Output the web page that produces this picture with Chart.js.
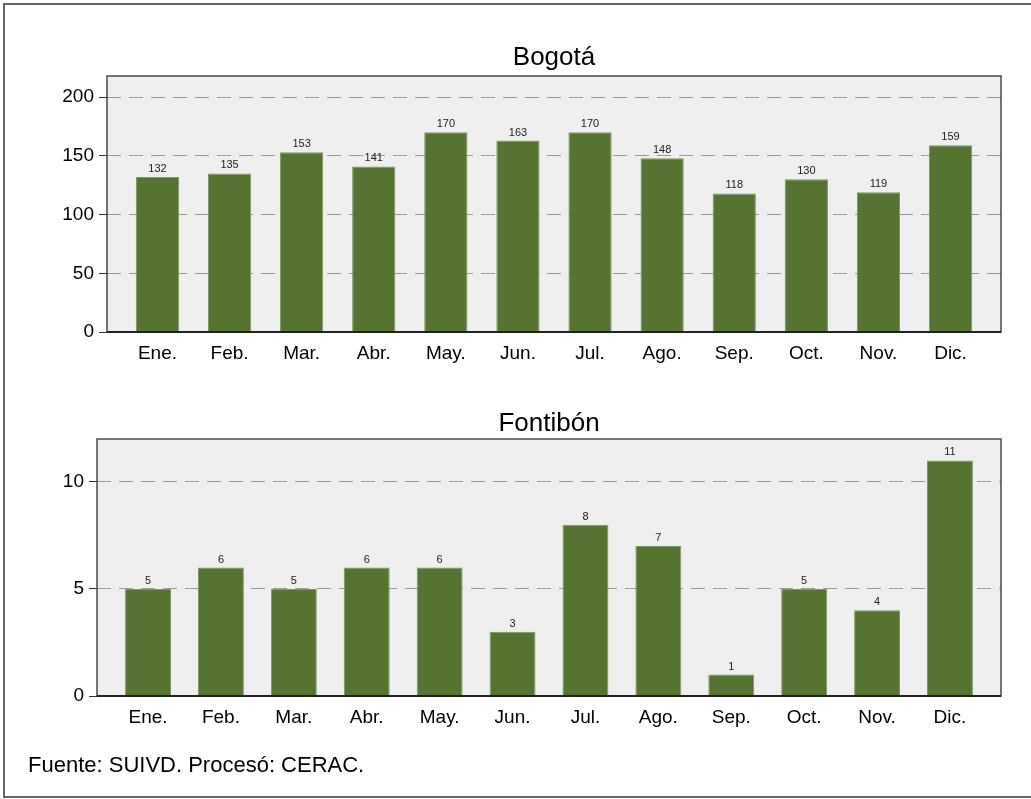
<!DOCTYPE html>
<html>
<head>
<meta charset="utf-8">
<script src="https://cdn.jsdelivr.net/npm/chart.js@4"></script>
<style>
  html, body { margin: 0; padding: 0; background: #ffffff; }
  body { width: 1031px; height: 799px; position: relative; overflow: hidden; }
  #frame { position: absolute; left: 3px; top: 3px; width: 1026px; height: 791px; border: 2px solid #666666; }
  canvas { position: absolute; left: 0; }
  #c1 { top: 0; }
  #c2 { top: 400px; }
</style>
</head>
<body>
<div id="frame"></div>
<canvas id="c1" width="1031" height="400"></canvas>
<canvas id="c2" width="1031" height="399"></canvas>
<script>
const months = ['Ene.', 'Feb.', 'Mar.', 'Abr.', 'May.', 'Jun.', 'Jul.', 'Ago.', 'Sep.', 'Oct.', 'Nov.', 'Dic.'];
const bogota = [132, 135, 153, 141, 170, 163, 170, 148, 118, 130, 119, 159];
const fontibon = [5, 6, 5, 6, 6, 3, 8, 7, 1, 5, 4, 11];
const bogotaTicks = [0, 50, 100, 150, 200];
const fontibonTicks = [0, 5, 10];
const bogotaTitle = 'Bogotá';
const fontibonTitle = 'Fontibón';
const sourceNote = 'Fuente: SUIVD. Procesó: CERAC.';

const FONT = '"Liberation Sans", Arial, sans-serif';
const BAR = '#557431';
const BAR_EDGE = '#7d9666';

function framePlugin(title, footer) {
  return {
    id: 'frameDeco',
    beforeDraw(chart) {
      const {ctx, chartArea: a} = chart;
      ctx.save();
      ctx.fillStyle = '#efefef';
      ctx.fillRect(a.left, a.top, a.right - a.left, a.bottom - a.top);
      ctx.restore();
    },
    afterDatasetsDraw(chart) {
      const {ctx, chartArea: a} = chart;
      ctx.save();
      ctx.strokeStyle = '#4a4a4a';
      ctx.lineWidth = 1.5;
      ctx.strokeRect(a.left, a.top, a.right - a.left, a.bottom - a.top);
      ctx.strokeStyle = '#222222';
      ctx.lineWidth = 2;
      ctx.beginPath();
      ctx.moveTo(a.left, a.bottom);
      ctx.lineTo(a.right, a.bottom);
      ctx.stroke();
      const meta = chart.getDatasetMeta(0);
      const vals = chart.data.datasets[0].data;
      ctx.fillStyle = '#222222';
      ctx.font = '11px ' + FONT;
      ctx.textAlign = 'center';
      ctx.textBaseline = 'alphabetic';
      meta.data.forEach((el, i) => {
        ctx.fillText(String(vals[i].y), el.x, el.y - 5);
      });
      ctx.fillStyle = '#000000';
      ctx.font = '26px ' + FONT;
      ctx.fillText(title.text, (a.left + a.right) / 2, title.y);
      if (footer) {
        ctx.textAlign = 'left';
        ctx.font = '22px ' + FONT;
        ctx.fillText(footer.text, footer.x, footer.y);
      }
      ctx.restore();
    }
  };
}

function makeChart(id, values, yTicks, yMax, opts) {
  return new Chart(document.getElementById(id), {
    type: 'bar',
    data: {
      datasets: [{
        data: values.map((v, i) => ({x: i, y: v})),
        backgroundColor: BAR,
        borderColor: BAR_EDGE,
        borderWidth: 1,
        barPercentage: opts.barPct,
        categoryPercentage: 1
      }]
    },
    options: {
      responsive: false,
      animation: false,
      devicePixelRatio: 1,
      layout: { padding: { top: opts.top, right: 30, left: 0, bottom: 0 } },
      plugins: { legend: { display: false }, tooltip: { enabled: false }, title: { display: false } },
      scales: {
        x: {
          type: 'linear',
          offset: false,
          min: -0.7,
          max: 11.7,
          grid: { display: false, drawTicks: false, offset: false },
          border: { display: false },
          afterBuildTicks: s => { s.ticks = months.map((m, i) => ({value: i})); },
          ticks: {
            autoSkip: false,
            maxRotation: 0,
            padding: 10,
            color: '#000000',
            font: { family: FONT, size: 19 },
            callback: v => months[v]
          },
          afterFit: s => { s.height = opts.xHeight; }
        },
        y: {
          min: 0,
          max: yMax,
          afterBuildTicks: s => { s.ticks = yTicks.map(v => ({value: v})); },
          grid: { color: '#999999', lineWidth: 1, tickLength: 8, tickColor: '#333333', drawTicks: true },
          border: { display: false, dash: [14, 8] },
          ticks: {
            padding: 5,
            color: '#000000',
            font: { family: FONT, size: 19 }
          },
          afterFit: s => { s.width = opts.yWidth; }
        }
      }
    },
    plugins: [framePlugin(opts.title, opts.footer)]
  });
}

makeChart('c1', bogota, bogotaTicks, 218, {
  top: 76, xHeight: 68, yWidth: 107, barPct: 0.6,
  title: { text: bogotaTitle, y: 65 }
});
makeChart('c2', fontibon, fontibonTicks, 12, {
  top: 39, xHeight: 103, yWidth: 97, barPct: 0.63,
  title: { text: fontibonTitle, y: 31 },
  footer: { text: sourceNote, x: 28, y: 372 }
});
</script>
</body>
</html>
